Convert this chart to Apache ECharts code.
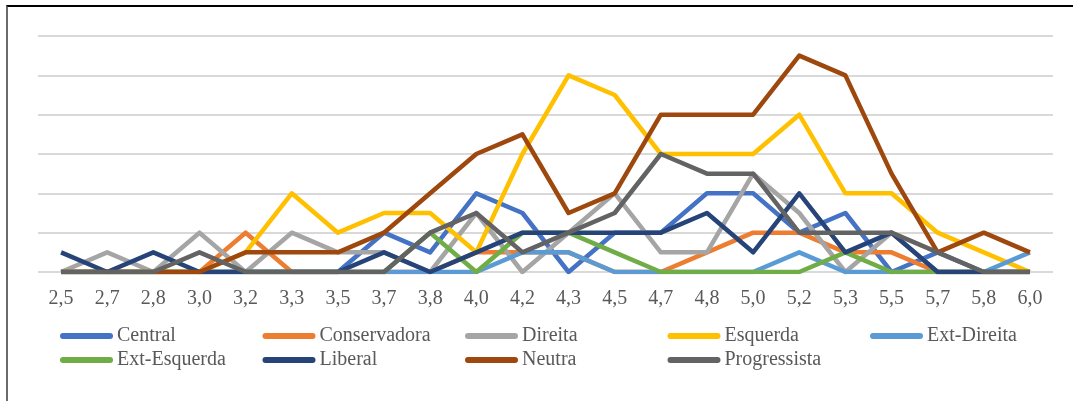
<!DOCTYPE html>
<html>
<head>
<meta charset="utf-8">
<title>chart</title>
<script src="https://cdn.jsdelivr.net/npm/echarts@6/dist/echarts.min.js"></script>
<style>
  html, body { margin: 0; padding: 0; background: #fff; }
  #chart { width: 1073px; height: 401px; }
  #frame {
    position: absolute; left: 6px; top: 5px; width: 1067px; height: 396px;
    border-top: 2px solid #000; border-left: 2px solid #6b6b6b;
    pointer-events: none; box-sizing: border-box;
  }
</style>
</head>
<body>
<div id="chart"></div>
<div id="frame"></div>
<script>
// categorias do eixo x
var categorias = ['2,5','2,7','2,8','3,0','3,2','3,3','3,5','3,7','3,8','4,0','4,2',
                  '4,3','4,5','4,7','4,8','5,0','5,2','5,3','5,5','5,7','5,8','6,0'];

var central      = [0,0,0,0,0,0,0,2,1,4,3,0,2,2,4,4,2,3,0,1,0,0];
var conservadora = [0,0,0,0,2,0,0,0,0,1,1,1,0,0,1,2,2,1,1,0,0,0];
var direita      = [0,1,0,2,0,2,1,1,0,3,0,2,4,1,1,5,3,0,2,0,0,0];
var esquerda     = [0,0,0,0,1,4,2,3,3,1,6,10,9,6,6,6,8,4,4,2,1,0];
var extDireita   = [0,0,0,0,0,0,0,0,0,0,1,1,0,0,0,0,1,0,0,0,0,1];
var extEsquerda  = [0,0,0,0,0,0,0,0,2,0,2,2,1,0,0,0,0,1,0,0,0,0];
var liberal      = [1,0,1,0,0,0,0,1,0,1,2,2,2,2,3,1,4,1,2,0,0,0];
var neutra       = [0,0,0,0,1,1,1,2,4,6,7,3,4,8,8,8,11,10,5,1,2,1];
var progressista = [0,0,0,1,0,0,0,0,2,3,1,2,3,6,5,5,2,2,2,1,0,0];

var nomes = ['Central','Conservadora','Direita','Esquerda','Ext-Direita',
             'Ext-Esquerda','Liberal','Neutra','Progressista'];
var valores = [central, conservadora, direita, esquerda, extDireita,
               extEsquerda, liberal, neutra, progressista];
var cores = ['#4472C4','#ED7D31','#A5A5A5','#FFC000','#5B9BD5',
             '#70AD47','#264478','#9E480E','#636363'];

var fonte = '"Liberation Serif", "Times New Roman", serif';
var corTexto = '#595959';

var myChart = echarts.init(document.getElementById('chart'));

// uma legenda por item, para ficar em colunas iguais como no Excel
var legendas = [];
for (var i = 0; i < nomes.length; i++) {
  legendas.push({
    data: [nomes[i]],
    left: 60 + (i % 5) * 202.5,
    top: i < 5 ? 326 : 350,
    icon: 'path://M3,0 L50,0 A3,3 0 0 1 50,6 L3,6 A3,3 0 0 1 3,0 Z',
    itemWidth: 53,
    itemHeight: 6,
    padding: 0,
    textStyle: { fontFamily: fonte, fontSize: 20, color: corTexto, padding: [0,0,0,-1] }
  });
}

var series = [];
for (var j = 0; j < nomes.length; j++) {
  series.push({
    name: nomes[j],
    type: 'line',
    data: valores[j],
    showSymbol: false,
    symbol: 'none',
    color: cores[j],
    lineStyle: { width: 4.5, color: cores[j], join: 'round' },
    animation: false
  });
}

var option = {
  animation: false,
  legend: legendas,
  grid: { left: 38, right: 20, top: 36, bottom: 129 },
  xAxis: {
    type: 'category',
    data: categorias,
    boundaryGap: true,
    axisLine: { show: false },
    axisTick: { show: false },
    axisLabel: { fontFamily: fonte, fontSize: 20, color: corTexto, margin: 17, interval: 0 }
  },
  yAxis: {
    type: 'value',
    min: 0,
    max: 12,
    interval: 2,
    axisLabel: { show: false },
    axisLine: { show: false },
    axisTick: { show: false },
    splitLine: { lineStyle: { color: '#d9d9d9', width: 2 } }
  },
  series: series
};
myChart.setOption(option);
</script>
</body>
</html>
